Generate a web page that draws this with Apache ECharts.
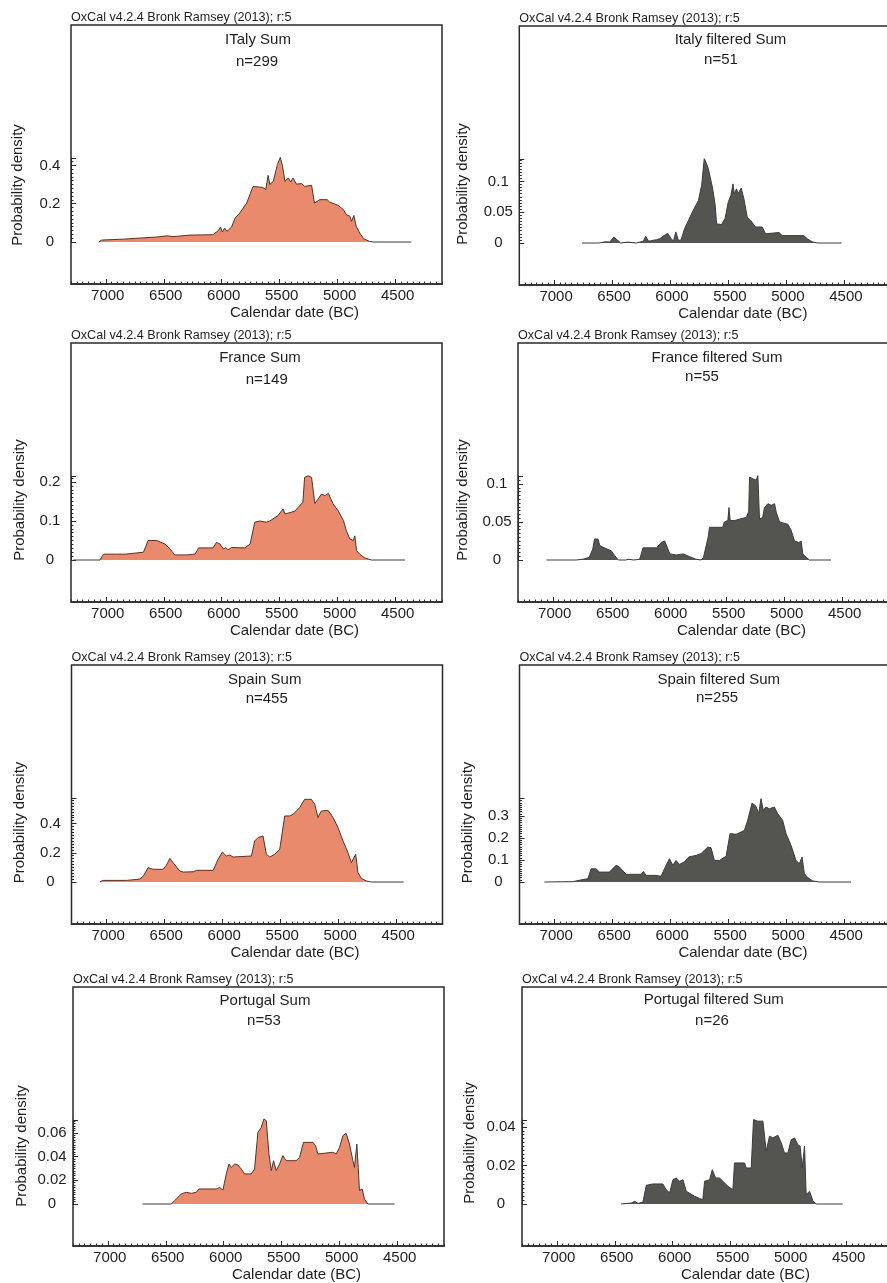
<!DOCTYPE html>
<html>
<head>
<meta charset="utf-8">
<script src="https://cdn.jsdelivr.net/npm/echarts@6/dist/echarts.min.js"></script>
<style>
  html, body { margin: 0; padding: 0; background: #ffffff; }
  #chart { width: 887px; height: 1283px; }
</style>
</head>
<body>
<div id="chart"></div>
<script>
// Summed radiocarbon probability distributions, [calendar year BC, probability density]

const italySum = [[7060,0],[7050,0.008],[7035,0.01],[6850,0.015],[6560,0.026],[6475,0.032],[6460,0.038],[6440,0.03],[6420,0.028],[6275,0.036],[6075,0.038],[6030,0.059],[6010,0.078],[5995,0.052],[5975,0.073],[5955,0.055],[5915,0.078],[5885,0.125],[5845,0.151],[5785,0.203],[5730,0.29],[5645,0.285],[5620,0.273],[5600,0.348],[5585,0.3],[5555,0.317],[5520,0.404],[5495,0.442],[5475,0.395],[5455,0.317],[5425,0.334],[5405,0.313],[5385,0.334],[5355,0.302],[5310,0.305],[5285,0.29],[5225,0.296],[5200,0.203],[5155,0.221],[5090,0.221],[5070,0.209],[4995,0.191],[4950,0.169],[4925,0.142],[4895,0.135],[4880,0.108],[4860,0.139],[4840,0.082],[4810,0.047],[4775,0.017],[4725,0.003],[4695,0],[4365,0]];

const italyFiltered = [[6760,0],[6615,0],[6555,0.002],[6520,0.0015],[6485,0.0097],[6450,0.004],[6425,0],[6365,0.0015],[6290,0],[6230,0.003],[6210,0.011],[6185,0.003],[6115,0.0054],[6090,0.007],[6040,0.0135],[6020,0.0157],[5990,0.007],[5970,0.003],[5950,0.018],[5927,0.004],[5905,0.005],[5875,0.023],[5840,0.037],[5800,0.053],[5755,0.069],[5727,0.094],[5705,0.137],[5685,0.129],[5670,0.121],[5655,0.121],[5635,0.091],[5612,0.064],[5598,0.031],[5555,0.03],[5525,0.04],[5497,0.067],[5475,0.077],[5457,0.096],[5446,0.08],[5435,0.078],[5426,0.088],[5414,0.08],[5386,0.089],[5363,0.072],[5334,0.042],[5306,0.037],[5263,0.026],[5205,0.026],[5176,0.015],[5060,0.017],[5033,0.012],[4846,0.012],[4817,0.007],[4775,0.002],[4730,0],[4520,0]];

const franceSum = [[7280,0],[7050,0],[7020,0.015],[6905,0.015],[6890,0.013],[6830,0.015],[6675,0.02],[6635,0.05],[6560,0.05],[6490,0.041],[6445,0.028],[6405,0.013],[6305,0.013],[6230,0.015],[6200,0.031],[6075,0.031],[6045,0.045],[6015,0.041],[5985,0.028],[5965,0.032],[5945,0.026],[5915,0.032],[5800,0.031],[5755,0.041],[5715,0.097],[5670,0.1],[5615,0.097],[5585,0.1],[5515,0.114],[5470,0.131],[5455,0.118],[5370,0.125],[5340,0.135],[5300,0.148],[5285,0.212],[5255,0.216],[5225,0.212],[5210,0.212],[5197,0.145],[5170,0.156],[5140,0.169],[5110,0.165],[5080,0.171],[5040,0.144],[4995,0.126],[4950,0.101],[4925,0.075],[4895,0.054],[4865,0.05],[4852,0.062],[4837,0.024],[4810,0.015],[4765,0.005],[4710,0],[4420,0]];

const franceFiltered = [[7055,0],[6800,0],[6740,0.001],[6685,0.0035],[6655,0.0145],[6640,0.0276],[6610,0.0276],[6595,0.019],[6570,0.017],[6540,0.015],[6495,0.012],[6465,0.0057],[6435,0],[6370,0],[6350,0.001],[6300,0],[6250,0.001],[6222,0.016],[6105,0.016],[6065,0.023],[6035,0.025],[5990,0.008],[5935,0.0066],[5875,0.008],[5820,0.0044],[5765,0.001],[5720,0],[5700,0.0035],[5660,0.03],[5648,0.043],[5535,0.043],[5520,0.05],[5490,0.052],[5480,0.069],[5470,0.052],[5430,0.052],[5385,0.054],[5330,0.056],[5310,0.064],[5303,0.109],[5275,0.107],[5245,0.105],[5231,0.111],[5217,0.054],[5190,0.056],[5174,0.069],[5145,0.074],[5115,0.072],[5087,0.074],[5073,0.063],[5044,0.05],[4972,0.047],[4944,0.039],[4915,0.025],[4878,0.023],[4858,0.025],[4843,0.008],[4814,0.0035],[4786,0],[4600,0]];

const spainSum = [[7055,0],[7030,0.011],[6825,0.011],[6710,0.02],[6680,0.041],[6640,0.098],[6595,0.087],[6510,0.087],[6480,0.116],[6452,0.162],[6424,0.132],[6365,0.075],[6335,0.068],[6250,0.07],[6222,0.08],[6078,0.08],[6036,0.155],[5998,0.205],[5964,0.178],[5935,0.185],[5906,0.171],[5748,0.178],[5720,0.281],[5691,0.304],[5648,0.315],[5619,0.19],[5590,0.171],[5547,0.19],[5504,0.224],[5461,0.452],[5418,0.452],[5389,0.463],[5332,0.509],[5289,0.566],[5231,0.566],[5202,0.532],[5174,0.441],[5145,0.486],[5087,0.491],[5044,0.441],[5001,0.372],[4958,0.281],[4915,0.201],[4886,0.132],[4849,0.19],[4829,0.064],[4800,0.025],[4757,0.007],[4714,0],[4435,0]];

const spainFiltered = [[7085,0],[6840,0.0015],[6755,0.011],[6710,0.015],[6682,0.06],[6640,0.06],[6610,0.045],[6525,0.045],[6467,0.076],[6438,0.068],[6380,0.035],[6251,0.035],[6231,0.048],[6208,0.03],[6122,0.03],[6079,0.026],[6050,0.06],[6007,0.106],[5978,0.076],[5950,0.098],[5921,0.08],[5878,0.091],[5840,0.114],[5777,0.121],[5734,0.129],[5705,0.144],[5676,0.159],[5648,0.156],[5619,0.098],[5576,0.098],[5518,0.117],[5484,0.22],[5432,0.217],[5389,0.227],[5360,0.235],[5332,0.28],[5294,0.359],[5260,0.344],[5237,0.311],[5217,0.379],[5197,0.326],[5174,0.341],[5145,0.333],[5102,0.341],[5073,0.311],[5030,0.28],[5001,0.22],[4958,0.167],[4915,0.098],[4886,0.083],[4863,0.114],[4843,0.038],[4814,0.02],[4771,0.005],[4714,0],[4440,0]];

const portugalSum = [[6700,0],[6452,0],[6424,0.0028],[6366,0.0085],[6323,0.0099],[6280,0.009],[6237,0.0099],[6214,0.0127],[6064,0.0127],[6036,0.014],[6007,0.0118],[5978,0.0254],[5955,0.0338],[5935,0.031],[5906,0.0338],[5878,0.033],[5849,0.0296],[5820,0.0254],[5763,0.0254],[5734,0.0296],[5705,0.0606],[5676,0.0648],[5653,0.0719],[5633,0.0704],[5610,0.0423],[5590,0.0282],[5570,0.0366],[5547,0.0282],[5518,0.0338],[5490,0.0409],[5461,0.0366],[5375,0.0366],[5346,0.0394],[5312,0.0521],[5231,0.0521],[5208,0.0493],[5188,0.0423],[5059,0.0437],[5030,0.0423],[5001,0.0479],[4972,0.0578],[4944,0.0597],[4930,0.0592],[4915,0.0507],[4900,0.0521],[4886,0.0366],[4872,0.031],[4852,0.0507],[4840,0.031],[4829,0.0113],[4806,0.0127],[4786,0.0042],[4757,0],[4525,0]];

const portugalFiltered = [[6445,0],[6357,0.0005],[6329,0.0014],[6300,0.0003],[6257,0.001],[6228,0.0097],[6171,0.0104],[6085,0.0104],[6056,0.0074],[6027,0.0057],[5998,0.0126],[5970,0.0135],[5941,0.0118],[5912,0.0126],[5883,0.0066],[5811,0.004],[5768,0.0028],[5740,0.0023],[5725,0.0118],[5682,0.0126],[5659,0.0178],[5630,0.0135],[5596,0.0135],[5567,0.0118],[5524,0.0092],[5481,0.0074],[5467,0.0213],[5380,0.0213],[5366,0.0187],[5323,0.0187],[5303,0.0438],[5266,0.043],[5251,0.0438],[5222,0.043],[5194,0.0274],[5165,0.0352],[5136,0.0343],[5093,0.0357],[5064,0.0317],[5036,0.0265],[5007,0.0265],[4978,0.0334],[4949,0.0343],[4921,0.0308],[4901,0.03],[4883,0.0187],[4863,0.03],[4849,0.0049],[4820,0.0066],[4791,0.0017],[4763,0],[4533,0]];

// Panel headings and sample counts
const titles = ['ITaly Sum', 'Italy filtered Sum', 'France Sum', 'France filtered Sum',
                'Spain Sum', 'Spain filtered Sum', 'Portugal Sum', 'Portugal filtered Sum'];
const counts = ['n=299', 'n=51', 'n=149', 'n=55', 'n=455', 'n=255', 'n=53', 'n=26'];
const seriesData = [italySum, italyFiltered, franceSum, franceFiltered,
                    spainSum, spainFiltered, portugalSum, portugalFiltered];

// Tick labels
const yearTicks = [7000, 6500, 6000, 5500, 5000, 4500];
const densitySteps = [0.2, 0.05, 0.1, 0.05, 0.2, 0.1, 0.02, 0.02];

const headerText = 'OxCal v4.2.4 Bronk Ramsey (2013); r:5';
const xName = 'Calendar date (BC)';
const yName = 'Probability density';

// ---- layout ----
const FONT = '"Liberation Sans", Arial, Helvetica, sans-serif';
const INK = '#1e1e1e';
const FILLS = ['#E98A6C', '#545451'];
const X_MIN = 4100, X_MAX = 7300;
const BOX_W = 371, BOX_H = 259;
const ZERO_UP = 42, RULER_H = 84;

// per panel: box left/top, top of the density ruler (axis max), title/count/axis-name anchors
const layout = [
  { left: 71,    top: 25,  yMax: 0.4386, tx: 258,   ty: 39.5,  nx: 257,   ny: 62,    yx: 18,    yy: 185 },
  { left: 519.3, top: 26,  yMax: 0.1364, tx: 730.5, ty: 40,    nx: 721,   ny: 59.5,  yx: 463,   yy: 184 },
  { left: 71,    top: 343, yMax: 0.2154, tx: 260,   ty: 357.5, nx: 266.7, ny: 380,   yx: 20,    yy: 500 },
  { left: 518,   top: 343, yMax: 0.1105, tx: 717,   ty: 357.5, nx: 702,   ny: 377,   yx: 463,   yy: 500 },
  { left: 71.5,  top: 665, yMax: 0.575,  tx: 264.7, ty: 679.5, nx: 266.7, ny: 698.5, yx: 20,    yy: 822.5 },
  { left: 519.5, top: 665, yMax: 0.382,  tx: 718.7, ty: 679.5, nx: 717,   ny: 698,   yx: 468,   yy: 822.5 },
  { left: 73,    top: 987, yMax: 0.0710, tx: 265,   ty: 1001,  nx: 264,   ny: 1020.5,yx: 21.7,  yy: 1146 },
  { left: 522,   top: 987, yMax: 0.0436, tx: 713.8, ty: 999.5, nx: 712,   ny: 1021,  yx: 469.7, yy: 1143 }
];

const grids = [], xAxes = [], yAxes = [], series = [], texts = [];

function txt(x, y, s, size, align, rot) {
  texts.push({
    type: 'text', x: x, y: y, rotation: rot || 0, silent: true,
    style: { text: s, fill: INK, font: size + 'px ' + FONT,
             textAlign: align || 'center', textVerticalAlign: 'middle' }
  });
}

layout.forEach((p, i) => {
  const boxGrid = grids.length;
  // framed plot box carrying the calendar axis
  grids.push({ left: p.left, top: p.top, width: BOX_W, height: BOX_H, show: true,
               borderColor: '#2a2a2a', borderWidth: 1.5, backgroundColor: 'rgba(0,0,0,0)',
               containLabel: false, outerBoundsMode: 'none' });
  // density region from zero up to the top of the ruler
  const innerGrid = grids.length;
  grids.push({ left: p.left, top: p.top + BOX_H - ZERO_UP - RULER_H, width: BOX_W, height: RULER_H,
               containLabel: false, outerBoundsMode: 'none' });

  // minor calendar ticks every 50 years, plus the bottom frame line
  xAxes.push({ gridIndex: boxGrid, type: 'value', min: X_MIN, max: X_MAX, inverse: true,
               interval: 50, position: 'bottom',
               axisLine: { show: true, lineStyle: { color: '#2a2a2a', width: 1.5 } },
               axisTick: { show: true, inside: true, length: 2.5, lineStyle: { color: '#2a2a2a', width: 1 } },
               axisLabel: { show: false }, splitLine: { show: false } });
  // labelled calendar ticks every 500 years
  xAxes.push({ gridIndex: boxGrid, type: 'value', min: X_MIN, max: X_MAX, inverse: true,
               position: 'bottom',
               axisLine: { show: false },
               axisTick: { show: true, inside: true, length: 5, customValues: yearTicks,
                           lineStyle: { color: '#2a2a2a', width: 1 } },
               axisLabel: { show: true, customValues: yearTicks, fontSize: 15, fontFamily: FONT,
                            color: INK, margin: 4, padding: [0, 0, 0, 4],
                            formatter: v => String(v) },
               splitLine: { show: false } });
  yAxes.push({ gridIndex: boxGrid, type: 'value', min: 0, max: 1, show: false });

  const innerX = xAxes.length;
  xAxes.push({ gridIndex: innerGrid, type: 'value', min: X_MIN, max: X_MAX, inverse: true, show: false });
  const innerY = yAxes.length;
  yAxes.push({ gridIndex: innerGrid, type: 'value', min: 0, max: p.yMax, interval: densitySteps[i],
               position: 'left',
               axisLine: { show: true, lineStyle: { color: '#2a2a2a', width: 1 } },
               axisTick: { show: true, inside: true, length: 5, lineStyle: { color: '#2a2a2a', width: 1 } },
               minorTick: { show: true, splitNumber: 10, length: 2.5, lineStyle: { color: '#2a2a2a', width: 1 } },
               axisLabel: { show: true, showMaxLabel: false, fontSize: 15, fontFamily: FONT, color: INK,
                            margin: 21, align: 'center' },
               splitLine: { show: false }, minorSplitLine: { show: false } });

  series.push({
    type: 'line', name: titles[i], xAxisIndex: innerX, yAxisIndex: innerY,
    data: seriesData[i], symbol: 'none', showSymbol: false, clip: false, silent: true,
    lineStyle: { color: '#3c3c3c', width: 1 },
    areaStyle: { color: FILLS[i % 2], opacity: 1 },
    z: 1
  });

  txt(p.left, p.top - 7.5, headerText, 12.6, 'left');
  txt(p.tx, p.ty, titles[i], 15);
  txt(p.nx, p.ny, counts[i], 15);
  txt(p.left + 223.5, p.top + BOX_H + 29, xName, 15);
  txt(p.yx, p.yy, yName, 15, 'center', Math.PI / 2);
});

const chart = echarts.init(document.getElementById('chart'), null, { renderer: 'canvas' });
chart.setOption({
  backgroundColor: '#ffffff',
  animation: false,
  grid: grids,
  xAxis: xAxes,
  yAxis: yAxes,
  series: series,
  graphic: { elements: texts }
});
</script>
</body>
</html>
